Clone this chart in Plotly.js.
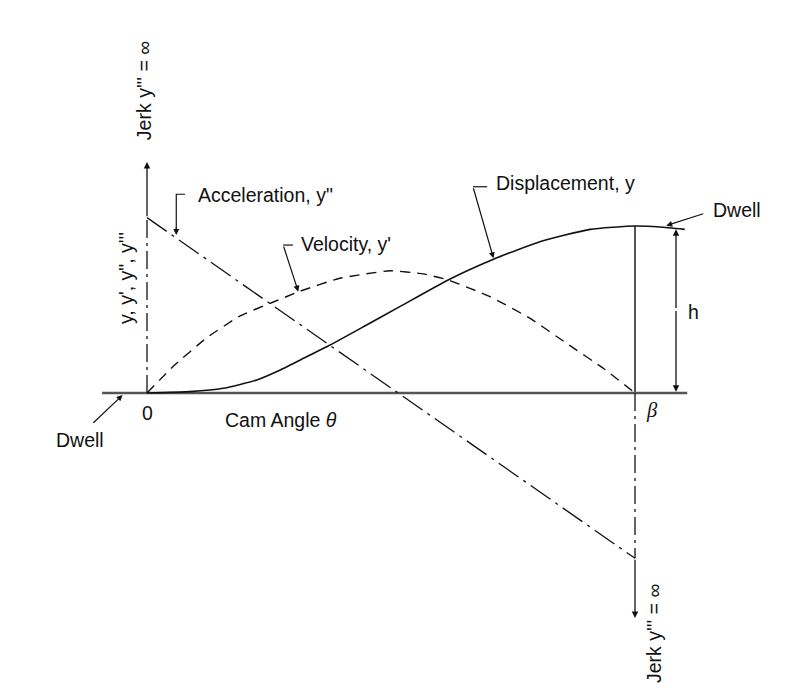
<!DOCTYPE html>
<html>
<head>
<meta charset="utf-8">
<script src="https://cdn.plot.ly/plotly-3.0.1.min.js"></script>
<style>html,body{margin:0;padding:0;background:#fff;}#chart{width:793px;height:699px;}</style>
</head>
<body>
<div id="chart"></div>
<script>
// Cam angle as a fraction of beta, motion values as a fraction of h
var dispTheta = [0, 0.088, 0.156, 0.225, 0.273, 0.327, 0.375, 0.450, 0.518, 0.617, 0.710, 0.805, 0.908, 1.0, 1.051, 1.102];
var dispY     = [0, 0.008, 0.028, 0.078, 0.138, 0.217, 0.287, 0.407, 0.517, 0.677, 0.801, 0.906, 0.980, 1.0, 0.994, 0.980];

var velTheta = [0, 0.054, 0.122, 0.191, 0.259, 0.314, 0.395, 0.498, 0.566, 0.617, 0.703, 0.785, 0.860, 0.935, 1.0];
var velY     = [0, 0.160, 0.330, 0.462, 0.545, 0.610, 0.687, 0.732, 0.713, 0.677, 0.577, 0.447, 0.297, 0.148, 0];

var accTheta = [0, 1.0];
var accY     = [1.05, -0.99];

var jerkTop = 1.383, jerkBottom = -1.347;   // ends of the "infinite jerk" arrows
var baseTheta = [-0.092, 1.107];
var hTheta = 1.084;

var labels = {
  acc: 'Acceleration, y"',
  vel: "Velocity, y'",
  disp: 'Displacement, y',
  dwell: 'Dwell',
  h: 'h',
  zero: '0',
  beta: '<i>β</i>',
  xTitle: 'Cam Angle <i>θ</i>',
  yTitle: "y, y', y\", y'''",
  jerk: "Jerk y''' = ∞"
};

var FONT = 'Liberation Sans, Arial, sans-serif';
var fs = 19.5;
var ink = '#111';
var grey = '#555';

var traces = [
  // baseline (theta axis)
  {x: baseTheta, y: [0, 0], mode: 'lines', line: {color: grey, width: 2.4}},
  // y axis dash-dot part
  {x: [0, 0], y: [0, accY[0]], mode: 'lines', line: {color: ink, width: 1.3, dash: '18px,5px,3px,5px'}},
  // beta line (solid up to h)
  {x: [1, 1], y: [0, 1], mode: 'lines', line: {color: grey, width: 2}},
  // beta line dash-dot below axis
  {x: [1, 1], y: [0, accY[1]], mode: 'lines', line: {color: ink, width: 1.3, dash: '18px,5px,3px,5px'}},
  // acceleration
  {x: accTheta, y: accY, mode: 'lines', line: {color: ink, width: 1.3, dash: '24px,6px,3px,6px'}},
  // velocity
  {x: velTheta, y: velY, mode: 'lines', line: {color: ink, width: 1.4, dash: '10px,7px', shape: 'spline', smoothing: 0.4}},
  // displacement
  {x: dispTheta, y: dispY, mode: 'lines', line: {color: ink, width: 1.6, shape: 'spline', smoothing: 0.5}},
  // leader brackets
  {x: [0.078, 0.060, 0.060], y: [1.190, 1.190, 0.97], mode: 'lines', line: {color: ink, width: 1.2}},
  {x: [0.299, 0.279], y: [0.886, 0.886], mode: 'lines', line: {color: ink, width: 1.2}},
  {x: [0.697, 0.668], y: [1.235, 1.235], mode: 'lines', line: {color: ink, width: 1.2}}
];

function arrow(xt, yt, xa, ya, w) {
  return {x: xt, y: yt, ax: xa, ay: ya, axref: 'x', ayref: 'y', xref: 'x', yref: 'y',
          text: '', showarrow: true, arrowhead: 2, arrowsize: 1, arrowwidth: w || 1.2,
          arrowcolor: ink, standoff: 0, startstandoff: 0};
}
function txt(x, y, t, opts) {
  var a = {x: x, y: y, xref: 'x', yref: 'y', text: t, showarrow: false,
           font: {family: FONT, size: fs, color: ink}, xanchor: 'center', yanchor: 'middle'};
  for (var k in opts) a[k] = opts[k];
  return a;
}

var annotations = [
  // jerk arrows
  arrow(0, jerkTop, 0, accY[0], 1.3),
  arrow(1, jerkBottom, 1, accY[1], 1.3),
  // h dimension
  arrow(hTheta, 0.980, hTheta, 0.5, 1.3),
  arrow(hTheta, 0.008, hTheta, 0.5, 1.3),
  // dwell pointers
  arrow(1.064, 1.002, 1.143, 1.076, 1.2),
  arrow(-0.050, -0.012, -0.113, -0.187, 1.2),
  // label leaders
  arrow(0.060, 0.946, 0.060, 1.0, 1.2),
  arrow(0.310, 0.607, 0.279, 0.886, 1.2),
  arrow(0.710, 0.807, 0.668, 1.235, 1.2),
  // texts
  txt(0.100, 1.186, labels.acc, {xanchor: 'left'}),
  txt(0.312, 0.892, labels.vel, {xanchor: 'left'}),
  txt(0.711, 1.257, labels.disp, {xanchor: 'left'}),
  txt(1.209, 1.096, labels.dwell),
  txt(-0.137, -0.281, labels.dwell),
  txt(1.119, 0.487, labels.h),
  txt(0, -0.12, labels.zero),
  txt(1.034, -0.102, labels.beta, {font: {family: 'Liberation Serif, serif', size: fs + 1, color: ink}}),
  txt(0.274, -0.162, labels.xTitle),
  txt(-0.043, 0.689, labels.yTitle, {textangle: -90}),
  txt(-0.006, 1.808, labels.jerk, {textangle: -90}),
  txt(1.039, -1.443, labels.jerk, {textangle: -90})
];

var layout = {
  width: 793, height: 699,
  margin: {l: 0, r: 0, t: 0, b: 0},
  paper_bgcolor: '#fff', plot_bgcolor: '#fff',
  showlegend: false,
  xaxis: {range: [-147 / 488, (793 - 147) / 488], visible: false, fixedrange: true},
  yaxis: {range: [(393 - 699) / 167, 393 / 167], visible: false, fixedrange: true},
  annotations: annotations
};

traces.forEach(function (t) { t.hoverinfo = 'skip'; });
Plotly.newPlot('chart', traces, layout, {displayModeBar: false, staticPlot: true});
</script>
</body>
</html>
